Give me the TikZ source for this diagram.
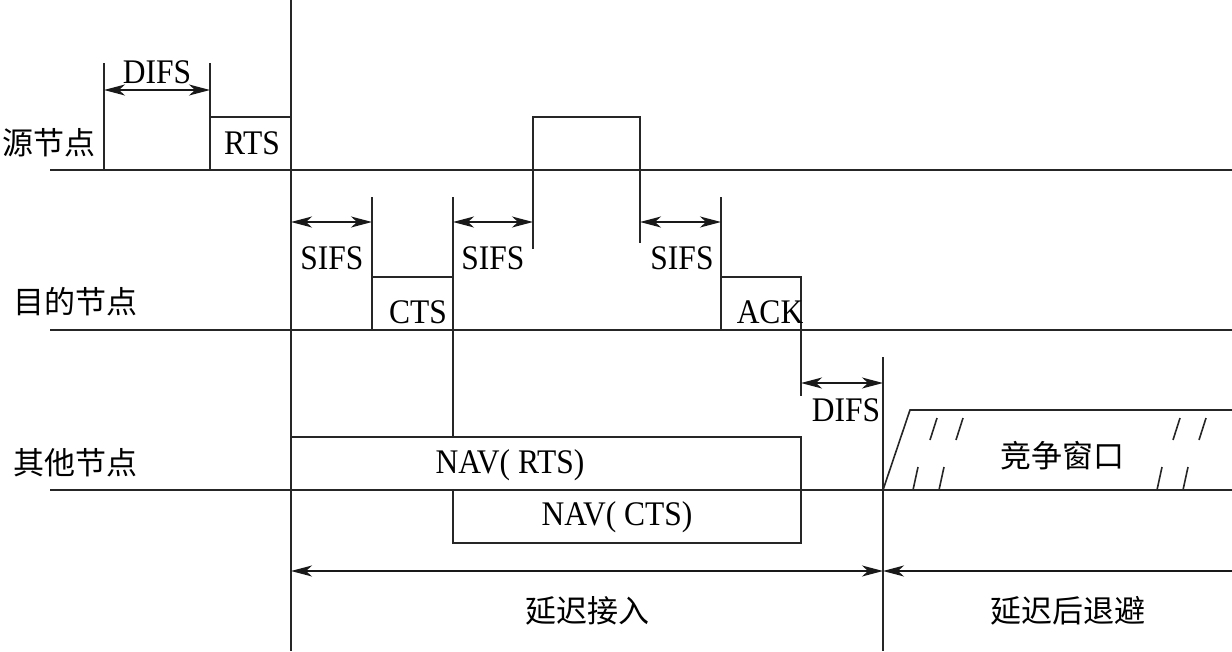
\documentclass[tikz,border=0pt]{standalone}
\usepackage{fontspec}
\setmainfont{Liberation Serif}
\newfontfamily\cjk{Noto Sans CJK SC}
\usetikzlibrary{arrows.meta}
\newcommand{\tall}[1]{\scalebox{1.05}[1.15]{#1}}
\tikzset{
  ln/.style={line width=1.6pt, draw=black!85},
  tip/.tip={Stealth[length=21pt,width=11pt,inset=6pt]},
  dim/.style={line width=1.5pt, draw=black!90, tip-tip},
  ldim/.style={line width=1.5pt, draw=black!90, tip-},
  lat/.style={inner sep=0pt, font=\fontsize{30}{30}\selectfont},
  zh/.style={inner sep=0pt, font=\cjk\fontsize{31}{32}\selectfont},
}
\begin{document}
\begin{tikzpicture}[x=1pt,y=-1pt]
\useasboundingbox (0,0) rectangle (1232,651);
% time lines
\coordinate (sL) at (50,170); \coordinate (sR) at (1232,170);
\coordinate (dL) at (50,330); \coordinate (dR) at (1232,330);
\coordinate (oL) at (50,490); \coordinate (oR) at (1232,490);
\draw[ln] (sL) -- (sR);
\draw[ln] (dL) -- (dR);
\draw[ln] (oL) -- (oR);
% main verticals
\coordinate (m1) at (291,0); \coordinate (m2) at (291,651);
\draw[ln] (m1) -- (m2);
\coordinate (r1) at (883,357); \coordinate (r2) at (883,651);
\draw[ln] (r1) -- (r2);
% source: DIFS and RTS
\coordinate (d1t) at (104,63); \coordinate (d1b) at (104,170);
\coordinate (d2t) at (210,63); \coordinate (d2b) at (210,170);
\draw[ln] (d1t) -- (d1b);
\draw[ln] (d2t) -- (d2b);
\coordinate (da1) at (104,90); \coordinate (da2) at (210,90);
\draw[dim] (da1) -- (da2);
\node[lat] (difs1) at (157,72) {\tall{DIFS}};
\coordinate (rtsA) at (210,117); \coordinate (rtsB) at (291,117);
\draw[ln] (rtsA) -- (rtsB);
\node[lat] (rts) at (252,143) {\tall{RTS}};
% data frame
\coordinate (daA) at (533,249); \coordinate (daB) at (533,117);
\coordinate (daC) at (640,117); \coordinate (daD) at (640,243);
\draw[ln] (daA) -- (daB) -- (daC) -- (daD);
% destination: SIFS, CTS, ACK
\coordinate (c1t) at (372,197); \coordinate (c1b) at (372,330);
\draw[ln] (c1t) -- (c1b);
\coordinate (c2t) at (453,197); \coordinate (c2b) at (453,437);
\draw[ln] (c2t) -- (c2b);
\coordinate (ctsA) at (372,277); \coordinate (ctsB) at (453,277);
\draw[ln] (ctsA) -- (ctsB);
\node[lat] (cts) at (418,312) {\tall{CTS}};
\coordinate (s1a) at (291,222); \coordinate (s1b) at (372,222);
\draw[dim] (s1a) -- (s1b);
\node[lat] (sifs1) at (332,258) {\tall{SIFS}};
\coordinate (s2a) at (453,222); \coordinate (s2b) at (533,222);
\draw[dim] (s2a) -- (s2b);
\node[lat] (sifs2) at (493,258) {\tall{SIFS}};
\coordinate (a1t) at (721,197); \coordinate (a1b) at (721,330);
\draw[ln] (a1t) -- (a1b);
\coordinate (s3a) at (640,222); \coordinate (s3b) at (721,222);
\draw[dim] (s3a) -- (s3b);
\node[lat] (sifs3) at (682,258) {\tall{SIFS}};
\coordinate (ackA) at (721,277); \coordinate (ackB) at (801,277);
\coordinate (ackC) at (801,396);
\draw[ln] (ackA) -- (ackB) -- (ackC);
\node[lat] (ack) at (770,312) {\tall{ACK}};
% DIFS 2
\coordinate (e1) at (801,383); \coordinate (e2) at (883,383);
\draw[dim] (e1) -- (e2);
\node[lat] (difs2) at (846,410) {\tall{DIFS}};
% NAV boxes
\coordinate (n1a) at (291,437); \coordinate (n1b) at (801,490);
\draw[ln] (n1a) rectangle (n1b);
\node[lat] (navr) at (510,465) {\tall{NAV(\ RTS)}};
\coordinate (n2a) at (453,490); \coordinate (n2b) at (801,543);
\draw[ln] (n2a) rectangle (n2b);
\node[lat] (navc) at (617,517) {\tall{NAV(\ CTS)}};
% contention window
\coordinate (w0) at (883,490); \coordinate (w1) at (910,410); \coordinate (w2) at (1232,410);
\draw[ln] (w0) -- (w1) -- (w2);
\foreach \x in {937,963,1180,1206} {
  \coordinate (ht\x) at (\x,418); \coordinate (hb\x) at (\x-7,440);
  \draw[ln] (ht\x) -- (hb\x);
}
\foreach \x in {918,944,1162,1188} {
  \coordinate (lt\x) at (\x,467); \coordinate (lb\x) at (\x-5,490);
  \draw[ln] (lt\x) -- (lb\x);
}
\node[zh] (cw) at (1062,456) {竞争窗口};
% bottom spans
\coordinate (b1) at (291,571); \coordinate (b2) at (883,571); \coordinate (b3) at (1232,571);
\draw[dim] (b1) -- (b2);
\draw[ldim] (b2) -- (b3);
\node[zh] (defer) at (587,611) {延迟接入};
\node[zh] (backoff) at (1068,611) {延迟后退避};
% row labels
\node[zh] (src) at (49,143) {源节点};
\node[zh] (dst) at (75,302) {目的节点};
\node[zh] (oth) at (75,463) {其他节点};
\end{tikzpicture}
\end{document}
